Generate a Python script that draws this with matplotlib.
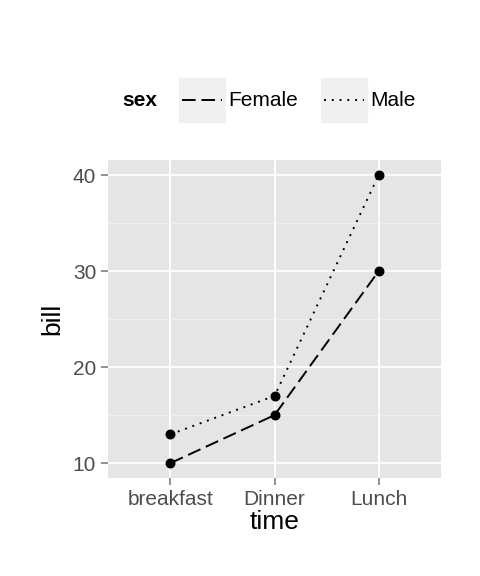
import matplotlib
matplotlib.use('Agg')
import matplotlib.pyplot as plt
from matplotlib.patches import Rectangle
from matplotlib.lines import Line2D

plt.rcParams['font.family'] = ['Liberation Sans', 'DejaVu Sans']

times = ['breakfast', 'Dinner', 'Lunch']
female_bill = [10, 15, 30]
male_bill = [13, 17, 40]
sexes = ['Female', 'Male']
styles = {'Female': (0, (7, 3)), 'Male': (0, (1, 3))}

fig = plt.figure(figsize=(4.8, 5.76), dpi=100)
ax = fig.add_axes([0.225, 0.170, 0.694, 0.552])
ax.set_facecolor('#e5e5e5')

x = list(range(1, len(times) + 1))
for sex, vals in zip(sexes, [female_bill, male_bill]):
    ax.plot(x, vals, color='black', linestyle=styles[sex], linewidth=1.4, zorder=3)
    ax.scatter(x, vals, color='black', s=38, zorder=4)

ax.set_xlim(0.4, 3.6)
ax.set_ylim(8.44, 41.56)
ax.set_xticks(x)
ax.set_xticklabels(times)
ax.set_yticks([10, 20, 30, 40])
ax.set_yticks([15, 25, 35], minor=True)
ax.grid(which='major', color='white', linewidth=1.3)
ax.grid(which='minor', color='#f2f2f2', linewidth=0.6)
ax.set_axisbelow(True)
for s in ax.spines.values():
    s.set_visible(False)
ax.tick_params(which='major', colors='#7f7f7f', labelsize=15, length=5, width=1.2)
ax.tick_params(which='minor', length=0)
for lab in ax.get_xticklabels() + ax.get_yticklabels():
    lab.set_color('#4d4d4d')
ax.set_xlabel('time', fontsize=19, labelpad=1)
ax.set_ylabel('bill', fontsize=19, labelpad=6)

# legend on top
fig.text(122 / 480, 1 - 100 / 576, 'sex', fontsize=15, fontweight='bold', va='center')
for (x0, sex) in [(179, 'Female'), (321, 'Male')]:
    fig.patches.append(Rectangle((x0 / 480, 1 - 122 / 576), 46 / 480, 44 / 576,
                                 transform=fig.transFigure, color='#f0f0f0', zorder=0))
    fig.lines.append(Line2D([(x0 + 3) / 480, (x0 + 43) / 480], [1 - 100 / 576] * 2,
                            transform=fig.transFigure, color='black',
                            linestyle=styles[sex], linewidth=1.4))
    fig.text((x0 + 49) / 480, 1 - 100 / 576, sex, fontsize=15, va='center')

fig.savefig('out.png', dpi=100)
